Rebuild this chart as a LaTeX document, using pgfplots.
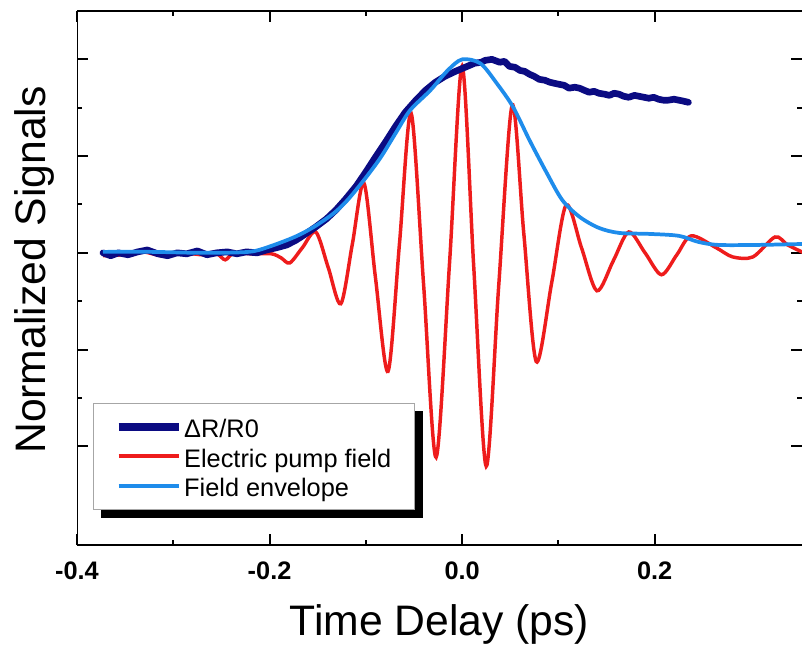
\documentclass[border=0pt]{standalone}
\usepackage{fontspec}
\setmainfont{Liberation Sans}
\usepackage{pgfplots}
\pgfplotsset{compat=1.18}
\usetikzlibrary{backgrounds}

\definecolor{navy}{HTML}{0B0B82}
\definecolor{pumpred}{HTML}{EE1C1C}
\definecolor{envblue}{HTML}{1E8CEB}

\begin{document}
\begin{tikzpicture}
\begin{axis}[
    scale only axis,
    width=543.75pt, height=400.5pt,
    xmin=-0.4, xmax=0.353,
    ymin=-1.51, ymax=1.25,
    axis line style={draw=none},
    tick pos=both,
    tick align=inside,
    xtick={-0.4,-0.2,0,0.2},
    xticklabels={-0.4,-0.2,0.0,0.2},
    minor x tick num=1,
    ytick={-1,-0.5,0,0.5,1},
    yticklabels={},
    minor y tick num=1,
    major tick length=8.5pt,
    minor tick length=4pt,
    every tick/.style={black, line width=1.5pt},
    xticklabel style={anchor=base, yshift=-25.5pt,
        font=\fontsize{19}{19}\selectfont\bfseries},
    xlabel={Time Delay (ps)},
    ylabel={Normalized Signals},
    every axis x label/.style={at={(axis description cs:0.5,-0.1704)}, anchor=base,
        font=\fontsize{32}{32}\selectfont},
    every axis y label/.style={at={(axis description cs:-0.0428,0.515)}, anchor=base,
        rotate=90, font=\fontsize{32}{32}\selectfont},
    legend image code/.code={\draw[#1] (0pt,0pt) -- (45pt,0pt);},
    legend cell align=left,
    legend style={name=leg, at={(axis description cs:0.0221,0.2659)}, anchor=north west,
        draw=gray!70, line width=0.8pt, fill=white,
        inner xsep=16pt, inner ysep=8.6pt,
        row sep=4pt,
        nodes={inner xsep=1.5pt, inner ysep=0pt, text height=17pt, text depth=1pt,
            font=\fontsize{19}{19}\selectfont}},
    clip=true,
]

\addlegendimage{navy, line width=5.5pt}
\addlegendentry{ΔR/R0}
\addlegendimage{pumpred, line width=3pt}
\addlegendentry{Electric pump field}
\addlegendimage{envblue, line width=3pt}
\addlegendentry{Field envelope}

% electric pump field
\addplot[pumpred, line width=2.6pt, smooth, forget plot] coordinates {
(-0.373,-0.015) (-0.353,-0.010) (-0.332,0.005) (-0.311,-0.015) (-0.291,0.000)
(-0.270,-0.010) (-0.255,-0.005) (-0.246,-0.036) (-0.237,0.000) (-0.219,-0.005)
(-0.198,-0.005) (-0.188,-0.026) (-0.179,-0.052) (-0.166,0.026) (-0.152,0.108)
(-0.139,-0.077) (-0.126,-0.263) (-0.114,0.046) (-0.102,0.361) (-0.090,-0.129)
(-0.077,-0.613) (-0.065,0.052) (-0.053,0.722) (-0.040,-0.165) (-0.027,-1.057)
(-0.013,-0.046) (0.000,0.964) (0.012,-0.067) (0.025,-1.103) (0.038,-0.170)
(0.052,0.763) (0.064,0.103) (0.077,-0.562) (0.093,-0.155) (0.108,0.247)
(0.124,0.026) (0.140,-0.196) (0.157,-0.041) (0.173,0.108) (0.190,0.000)
(0.207,-0.113) (0.223,-0.010) (0.238,0.088) (0.264,0.026) (0.281,-0.021)
(0.302,-0.021) (0.325,0.082) (0.338,0.041) (0.355,0.000)
};

% dR/R0
\addplot[navy, line width=5pt, line join=round, line cap=round, forget plot] coordinates {
(-0.373,0.000) (-0.365,-0.015) (-0.357,0.000) (-0.347,-0.010) (-0.337,0.005)
(-0.327,0.015) (-0.316,-0.005) (-0.306,-0.015) (-0.296,0.000) (-0.286,-0.005)
(-0.275,0.010) (-0.265,-0.010) (-0.255,0.000) (-0.244,0.005) (-0.234,-0.005)
(-0.224,0.005) (-0.213,0.000) (-0.203,0.015) (-0.193,0.026) (-0.182,0.041)
(-0.172,0.067) (-0.162,0.100) (-0.152,0.134) (-0.141,0.175) (-0.131,0.222)
(-0.121,0.278) (-0.110,0.345) (-0.100,0.418) (-0.090,0.495) (-0.079,0.577)
(-0.069,0.655) (-0.059,0.727) (-0.048,0.789) (-0.038,0.840) (-0.028,0.881)
(-0.018,0.912) (-0.007,0.938) (0.003,0.959) (0.013,0.980) (0.020,0.985)
(0.024,0.995) (0.031,1.000) (0.039,0.985) (0.044,0.990) (0.049,0.964)
(0.055,0.959) (0.060,0.943) (0.065,0.938) (0.070,0.923) (0.075,0.912)
(0.080,0.897) (0.086,0.892) (0.091,0.882) (0.096,0.876) (0.101,0.871)
(0.106,0.866) (0.111,0.851) (0.117,0.856) (0.122,0.851) (0.127,0.840)
(0.132,0.830) (0.137,0.835) (0.142,0.825) (0.148,0.820) (0.153,0.814)
(0.158,0.825) (0.163,0.820) (0.168,0.809) (0.173,0.804) (0.179,0.814)
(0.184,0.809) (0.189,0.804) (0.194,0.799) (0.199,0.804) (0.204,0.794)
(0.209,0.789) (0.214,0.789) (0.220,0.794) (0.225,0.789) (0.230,0.784)
(0.235,0.778)
};

% field envelope
\addplot[envblue, line width=2.8pt, smooth, forget plot] coordinates {
(-0.373,0.005) (-0.322,0.005) (-0.270,0.000) (-0.222,0.005) (-0.201,0.031)
(-0.174,0.082) (-0.154,0.134) (-0.133,0.206) (-0.119,0.273) (-0.102,0.376)
(-0.085,0.490) (-0.069,0.619) (-0.054,0.737) (-0.033,0.840) (-0.015,0.943)
(0.000,1.000) (0.019,0.979) (0.036,0.876) (0.053,0.753) (0.070,0.582)
(0.088,0.412) (0.104,0.273) (0.122,0.186) (0.142,0.129) (0.163,0.103)
(0.194,0.098) (0.225,0.088) (0.245,0.057) (0.266,0.041) (0.307,0.041)
(0.355,0.046)
};

\draw[black, line width=2.2pt, line join=miter]
    (rel axis cs:1,1) -- (rel axis cs:0,1) -- (rel axis cs:0,0) -- (rel axis cs:1,0);
\end{axis}
\begin{pgfonlayer}{background}
\fill[black] ([xshift=6pt,yshift=-6pt]leg.south west) rectangle ([xshift=6pt,yshift=-6pt]leg.north east);
\end{pgfonlayer}
\pgfresetboundingbox
\path (-57.75pt,-84pt) rectangle (543.75pt,408.75pt);
\end{tikzpicture}
\end{document}
